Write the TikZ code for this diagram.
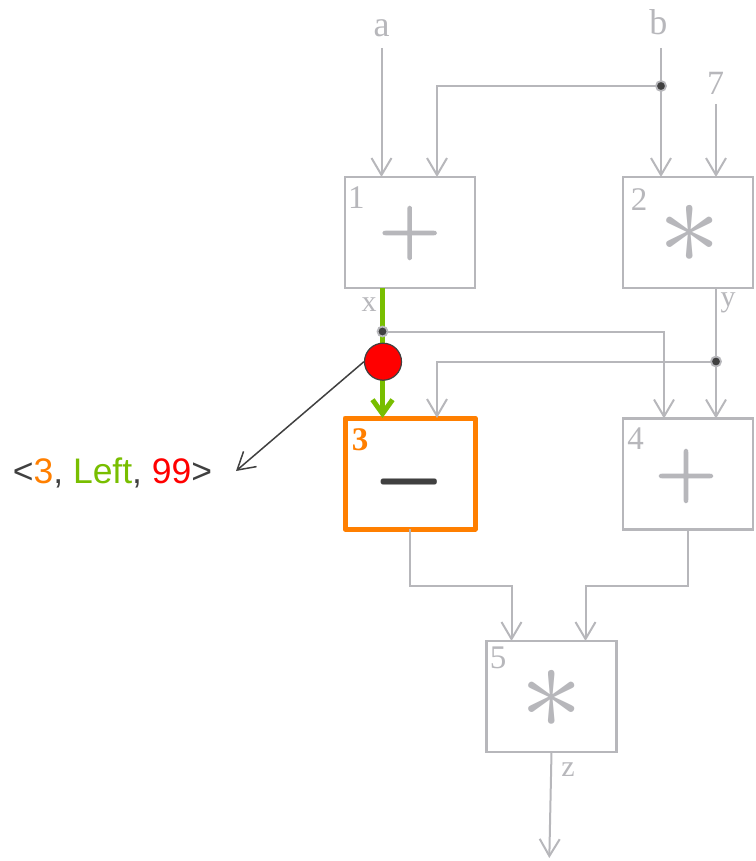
\documentclass[tikz,border=0pt]{standalone}
\usepackage{fontspec}
\setmainfont{Liberation Serif}
\newfontfamily\lsans{Liberation Sans}
\newfontfamily\opfont[FakeBold=2]{Latin Modern Roman}
\usetikzlibrary{arrows.meta}
\definecolor{lg}{RGB}{183,183,187}
\definecolor{dk}{RGB}{64,64,64}
\definecolor{og}{RGB}{255,127,0}
\definecolor{gn}{RGB}{120,190,0}
\definecolor{rd}{RGB}{255,0,0}
\begin{document}
\begin{tikzpicture}[x=1pt,y=-1pt,
  opbox/.style={draw=lg, line width=2.2pt, minimum width=130pt, minimum height=111pt, inner sep=0pt, outer sep=0pt, fill=white},
  hibox/.style={draw=og, line width=5pt, minimum width=130pt, minimum height=111pt, inner sep=0pt, outer sep=0pt, fill=white, line join=round},
  wire/.style={draw=lg, line width=2pt},
  arr/.style={wire, -{Straight Barb[length=17pt,width=20pt]}},
  glabel/.style={text=lg, inner sep=0pt, outer sep=0pt, anchor=base},
  numlabel/.style={glabel, font=\fontsize{33}{33}\selectfont},
  wirelabel/.style={glabel, font=\fontsize{30}{30}\selectfont},
  inlabel/.style={glabel, font=\fontsize{36}{36}\selectfont},
  plusop/.style={text=lg, inner sep=0pt, font=\opfont\fontsize{84}{84}\selectfont},
  astop/.style={text=lg, inner sep=0pt, scale=12.5},
  minusop/.style={text=dk, inner sep=0pt, xscale=9.2, yscale=15},
  jdot/.style={circle, fill=dk, draw=lg, line width=1.8pt, minimum size=10pt, inner sep=0pt},
]
\useasboundingbox (0,0) rectangle (755,861);

% boxes
\node[opbox] (b1) at (410,232.5) {};
\node[opbox] (b2) at (688,232.5) {};
\node[hibox] (b3) at (410,473.5) {};
\node[opbox] (b4) at (688,474) {};
\node[opbox] (b5) at (551.5,696.5) {};

% operators
\node[plusop] (op1) at (409.7,233) {+};
\node[astop] (op2) at (690,234) {$\ast$};
\node[minusop] (op3) at (409.7,482) {$-$};
\node[plusop] (op4) at (686,476) {+};
\node[astop] (op5) at (551.5,699) {$\ast$};

% box numbers
\node[numlabel] (n1) at (356.3,208.3) {1};
\node[numlabel] (n2) at (639.2,210) {2};
\node[numlabel, text=og, font=\bfseries\fontsize{33}{33}\selectfont] (n3) at (360,450) {3};
\node[numlabel] (n4) at (635.5,449.3) {4};
\node[numlabel] (n5) at (498,668) {5};

% input labels
\node[inlabel] (la) at (381.5,37) {a};
\node[inlabel] (lb) at (658.3,35) {b};
\node[glabel, font=\fontsize{34}{34}\selectfont] (l7) at (715.5,95) {7};
\node[wirelabel] (lx) at (369,311.7) {x};
\node[wirelabel] (ly) at (728,306.8) {y};
\node[wirelabel] (lz) at (568,776.7) {z};

% coordinates
\coordinate (sa) at (381.5,48);
\coordinate (sb) at (661,48);
\coordinate (s7) at (716,104);
\coordinate (jb) at (661,86);
\coordinate (jx) at (382.5,331.5);
\coordinate (jy) at (716,361.5);
\coordinate (b1in2) at ([xshift=27pt]b1.north);
\coordinate (b3in2) at ([xshift=27pt]b3.north);
\coordinate (b4in1) at ([xshift=-24pt]b4.north);
\coordinate (b4in2) at ([xshift=28pt]b4.north);
\coordinate (b5in1) at ([xshift=-40pt]b5.north);
\coordinate (b5in2) at ([xshift=34pt]b5.north);
\coordinate (zend) at (549.3,858);
\coordinate (tip) at (236,471);

% wires
\draw[arr] (sa) -- (sa |- b1.north);
\draw[arr] (sb) -- (sb |- b2.north);
\draw[arr] (jb) -| (b1in2);
\draw[arr] (s7) -- (s7 |- b2.north);
\draw[arr] (jx) -| (b4in1);
\draw[arr] (b2.south -| b4in2) -- (b4in2);
\draw[arr] (jy) -| (b3in2);
\draw[arr] (b3.south) -- ++(0,57) -| (b5in1);
\draw[arr] (b4.south) -- ++(0,56.5) -| (b5in2);
\draw[arr] (b5.south) -- (zend);

% highlighted wire
\draw[gn, line width=5pt, -{Straight Barb[length=14pt,width=20pt]}] (b1.south -| jx) -- (b3.north -| jx);

% junction dots
\node[jdot] (djb) at (jb) {};
\node[jdot] (djx) at (jx) {};
\node[jdot] (djy) at (jy) {};

% probe
\node[circle, fill=rd, draw=dk, line width=1.2pt, minimum size=37pt, inner sep=0pt] (hit) at (383,361.7) {};
\draw[dk, line width=1.5pt, -{Straight Barb[length=17pt,width=20pt]}] (hit.west) -- (tip);

\node[anchor=base, inner sep=0pt, text=dk, font=\lsans\fontsize{35.5}{35.5}\selectfont] (lbl) at (112.5,483.3)
  {<\textcolor{og}{3}, \textcolor{gn}{Left}, \textcolor{rd}{99}>};
\end{tikzpicture}
\end{document}
